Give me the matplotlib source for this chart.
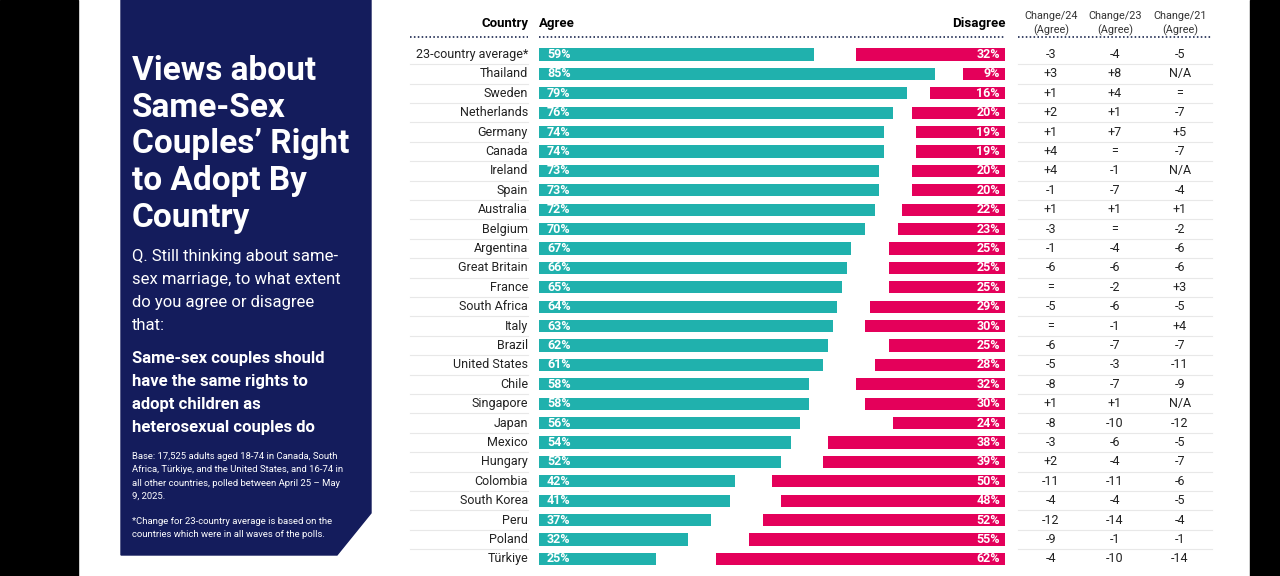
import matplotlib
matplotlib.use("Agg")
import matplotlib.pyplot as plt
from matplotlib.patches import Rectangle, Polygon
from matplotlib.transforms import blended_transform_factory

countries = ["23-country average*", "Thailand", "Sweden", "Netherlands", "Germany", "Canada",
             "Ireland", "Spain", "Australia", "Belgium", "Argentina", "Great Britain", "France",
             "South Africa", "Italy", "Brazil", "United States", "Chile", "Singapore", "Japan",
             "Mexico", "Hungary", "Colombia", "South Korea", "Peru", "Poland", "Türkiye"]
agree = [59, 85, 79, 76, 74, 74, 73, 73, 72, 70, 67, 66, 65, 64, 63, 62, 61, 58, 58, 56, 54, 52,
         42, 41, 37, 32, 25]
disagree = [32, 9, 16, 20, 19, 19, 20, 20, 22, 23, 25, 25, 25, 29, 30, 25, 28, 32, 30, 24, 38, 39,
            50, 48, 52, 55, 62]
change24 = ["-3", "+3", "+1", "+2", "+1", "+4", "+4", "-1", "+1", "-3", "-1", "-6", "=", "-5", "=",
            "-6", "-5", "-8", "+1", "-8", "-3", "+2", "-11", "-4", "-12", "-9", "-4"]
change23 = ["-4", "+8", "+4", "+1", "+7", "=", "-1", "-7", "+1", "=", "-4", "-6", "-2", "-6", "-1",
            "-7", "-3", "-7", "+1", "-10", "-6", "-4", "-11", "-4", "-14", "-1", "-10"]
change21 = ["-5", "N/A", "=", "-7", "+5", "-7", "N/A", "-4", "+1", "-2", "-6", "-6", "+3", "-5",
            "+4", "-7", "-11", "-9", "N/A", "-12", "-5", "-7", "-6", "-5", "-4", "-1", "-14"]
change_headers = ["Change/24\n(Agree)", "Change/23\n(Agree)", "Change/21\n(Agree)"]

TEAL = "#20b1ad"
PINK = "#e4005a"
NAVY = "#141c5c"
GREY = "#e8e8e8"
W, H = 1280, 576

plt.rcParams["font.family"] = ["Roboto", "DejaVu Sans"]
fig = plt.figure(figsize=(W / 100, H / 100), dpi=100)
fig.patch.set_facecolor("white")


def fx(x):
    return x / W


def fy(y):
    return 1 - y / H


# black side borders
fig.patches.append(Rectangle((0, 0), fx(78), 1, transform=fig.transFigure, color="black"))
fig.patches.append(Rectangle((fx(1250), 0), 1, 1, transform=fig.transFigure, color="black"))

# navy side panel with cut corner
panel = [(121, 0), (371, 0), (371, 513), (337, 555), (121, 555)]
fig.patches.append(Polygon([(fx(x), fy(y)) for x, y in panel], closed=True,
                           transform=fig.transFigure, color=NAVY))

fig.text(fx(132), fy(55), "Views about\nSame-Sex\nCouples’ Right\nto Adopt By\nCountry",
         color="white", fontsize=24, fontweight="bold", va="top", ha="left", linespacing=1.19)
fig.text(fx(132), fy(249), "Q. Still thinking about same-\nsex marriage, to what extent\n"
         "do you agree or disagree\nthat:",
         color="white", fontsize=12, va="top", ha="left", linespacing=1.67)
fig.text(fx(132), fy(351), "Same-sex couples should\nhave the same rights to\n"
         "adopt children as\nheterosexual couples do",
         color="white", fontsize=12, fontweight="bold", va="top", ha="left", linespacing=1.67)
fig.text(fx(132), fy(452), "Base: 17,525 adults aged 18-74 in Canada, South\n"
         "Africa, Türkiye, and the United States, and 16-74 in\n"
         "all other countries, polled between April 25 – May\n9, 2025.",
         color="white", fontsize=6.8, va="top", ha="left", linespacing=1.62)
fig.text(fx(132), fy(517), "*Change for 23-country average is based on the\n"
         "countries which were in all waves of the polls.",
         color="white", fontsize=6.8, va="top", ha="left", linespacing=1.55)

# bar axes: x in percent, y in row index
row0, step = 54.5, 19.4
ax = fig.add_axes([fx(539), 0, fx(1005) - fx(539), 1])
ax.set_xlim(0, 100)
ax.set_ylim((H - row0) / step, -row0 / step)
ax.axis("off")

rows = list(range(len(countries)))
ax.barh(rows, agree, height=0.62, color=TEAL)
ax.barh(rows, disagree, left=[100 - d for d in disagree], height=0.62, color=PINK)
for i in rows:
    ax.text(1.7, i, f"{agree[i]}%", color="white", fontsize=9, fontweight="bold",
            va="center", ha="left")
    ax.text(98.9, i, f"{disagree[i]}%", color="white", fontsize=9, fontweight="bold",
            va="center", ha="right")

tr = blended_transform_factory(fig.transFigure, ax.transData)
for i in rows:
    ax.text(fx(528), i, countries[i], transform=tr, fontsize=9, color="#222222",
            va="center", ha="right")
    for cx, vals in zip([1051, 1115, 1180], [change24, change23, change21]):
        ax.text(fx(cx), i, vals[i], transform=tr, fontsize=9, color="#222222",
                va="center", ha="center")
    if i < len(countries) - 1:
        for x0, x1 in [(410, 528), (1018, 1212)]:
            ax.plot([fx(x0), fx(x1)], [i + 0.5, i + 0.5], transform=tr, color=GREY,
                    lw=0.8, clip_on=False)

# headers
hy = (23.5 - row0) / step
ax.text(fx(528), hy, "Country", transform=tr, fontsize=9.5, fontweight="bold",
        color="black", va="center", ha="right")
ax.text(fx(539), hy, "Agree", transform=tr, fontsize=9.5, fontweight="bold",
        color="black", va="center", ha="left")
ax.text(fx(1006), hy, "Disagree", transform=tr, fontsize=9.5, fontweight="bold",
        color="black", va="center", ha="right")
for cx, lab in zip([1051, 1115, 1180], change_headers):
    ax.text(fx(cx), (23.5 - row0) / step, lab, transform=tr, fontsize=7.8, color="#333333",
            va="center", ha="center", linespacing=1.4)

ly = (37 - row0) / step
for x0, x1 in [(410, 528), (539, 1005), (1018, 1212)]:
    ax.plot([fx(x0), fx(x1)], [ly, ly], transform=tr, color="#3a4466", lw=1.4,
            linestyle=(0, (0.8, 1.2)), clip_on=False)

fig.savefig("out.png", dpi=100)
